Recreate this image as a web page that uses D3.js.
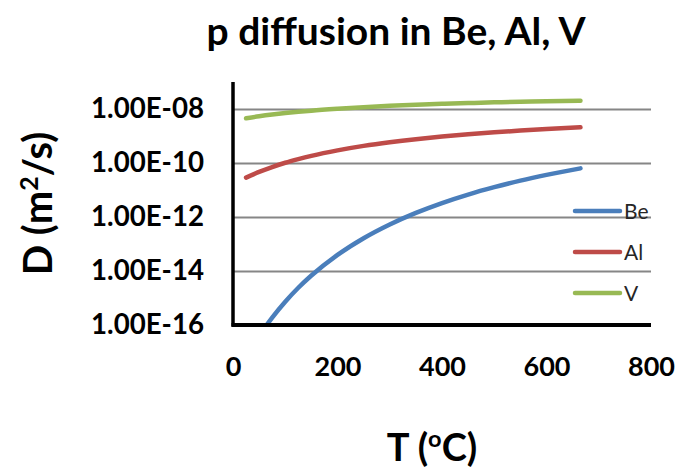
<!DOCTYPE html>
<html>
<head>
<meta charset="utf-8">
<script src="https://cdn.jsdelivr.net/npm/d3@7"></script>
<style>
  body { margin: 0; background: #fff; }
  svg { display: block; }
  text { font-family: Lato, "Open Sans", sans-serif; }
</style>
</head>
<body>
<svg id="chart"></svg>
<script>
// temperatures (degC) and diffusion coefficients (m2/s)
const temps = [25, 50, 75, 100, 125, 150, 200, 250, 300, 350, 400, 450, 500, 550, 600, 665];
const beD = [6.3e-18, 3.93e-17, 1.88e-16, 7.29e-16, 2.39e-15, 6.78e-15, 3.94e-14, 1.64e-13, 5.30e-13, 1.42e-12, 3.29e-12, 6.78e-12, 1.27e-11, 2.22e-11, 3.62e-11, 6.32e-11];
const alD = [2.87e-11, 4.67e-11, 7.08e-11, 1.02e-10, 1.39e-10, 1.84e-10, 2.94e-10, 4.30e-10, 5.87e-10, 7.64e-10, 9.55e-10, 1.16e-9, 1.37e-9, 1.59e-9, 1.81e-9, 2.10e-9];
const vD = [4.53e-9, 5.37e-9, 6.22e-9, 7.06e-9, 7.88e-9, 8.69e-9, 1.02e-8, 1.17e-8, 1.31e-8, 1.43e-8, 1.55e-8, 1.66e-8, 1.76e-8, 1.85e-8, 1.94e-8, 2.04e-8];

const seriesNames = ["Be", "Al", "V"];
const seriesColors = ["#4a7ebb", "#be4b48", "#98b954"];

const xTicks = [0, 200, 400, 600, 800];
const yTicks = [1e-16, 1e-14, 1e-12, 1e-10, 1e-8];
const yTickLabels = ["1.00E-16", "1.00E-14", "1.00E-12", "1.00E-10", "1.00E-08"];

const W = 687, H = 471;
const margin = {top: 82, right: 36, bottom: 146, left: 233};
const width = W - margin.left - margin.right;
const height = H - margin.top - margin.bottom;

const svg = d3.select("#chart").attr("width", W).attr("height", H);
svg.append("rect").attr("width", W).attr("height", H).attr("fill", "#fff");

const g = svg.append("g").attr("transform", `translate(${margin.left},${margin.top})`);

const x = d3.scaleLinear().domain([0, 800]).range([0, width]);
const y = d3.scaleLog().domain([1e-16, 1e-7]).range([height, 0]);

// shrink / grow a text so it spans the wanted width
function fitWidth(sel, w) {
    const len = sel.node().getComputedTextLength();
    const fs = parseFloat(sel.attr("font-size"));
    sel.attr("font-size", fs * w / len);
    return fs * w / len;
}

// gridlines
g.append("g")
    .attr("class", "grid")
    .call(d3.axisLeft(y).tickValues(yTicks.slice(1)).tickSize(-width).tickFormat(""))
    .call(s => s.select(".domain").remove())
    .call(s => s.selectAll("line").attr("stroke", "#868686").attr("stroke-width", 2));

// series lines
const series = [beD, alD, vD];
svg.append("defs").append("clipPath").attr("id", "plotClip")
    .append("rect").attr("width", width).attr("height", height);

const line = d3.line()
    .x((d, i) => x(temps[i]))
    .y(d => y(d))
    .curve(d3.curveMonotoneX);

g.append("g")
    .attr("clip-path", "url(#plotClip)")
    .selectAll("path")
    .data(series)
    .join("path")
    .attr("d", line)
    .attr("fill", "none")
    .attr("stroke", (d, i) => seriesColors[i])
    .attr("stroke-width", 4.5)
    .attr("stroke-linecap", "round");

// axes
const yAxis = g.append("g")
    .call(d3.axisLeft(y).tickValues(yTicks).tickSize(0).tickPadding(29)
        .tickFormat((d, i) => yTickLabels[i]));
yAxis.select(".domain").remove();
yAxis.selectAll("text")
    .attr("font-family", "Lato, sans-serif")
    .attr("font-weight", "bold")
    .attr("font-size", 20)
    .attr("fill", "#000");
const yfs = fitWidth(yAxis.select("text"), 113);
yAxis.selectAll("text").attr("font-size", yfs);

const xAxis = g.append("g")
    .attr("transform", `translate(0,${height})`)
    .call(d3.axisBottom(x).tickValues(xTicks).tickSize(0).tickPadding(32));
xAxis.select(".domain").remove();
xAxis.selectAll("text")
    .attr("font-family", "Lato, sans-serif")
    .attr("font-weight", "bold")
    .attr("font-size", 24)
    .attr("fill", "#000");
const xfs = fitWidth(xAxis.selectAll("text").filter((d, i) => i === 1), 47);
xAxis.selectAll("text").attr("font-size", xfs);

// axis lines (drawn on top)
g.append("line")
    .attr("x1", 0).attr("x2", 0).attr("y1", 0).attr("y2", height + 1.5)
    .attr("stroke", "#000").attr("stroke-width", 3.5);
g.append("line")
    .attr("x1", -1.5).attr("x2", width).attr("y1", height).attr("y2", height)
    .attr("stroke", "#000").attr("stroke-width", 4);

// legend
const legend = svg.append("g").attr("transform", "translate(573,211)");
const items = legend.selectAll("g")
    .data(seriesNames)
    .join("g")
    .attr("transform", (d, i) => `translate(0,${i * 41})`);
items.append("line")
    .attr("x1", 2).attr("x2", 47)
    .attr("stroke", (d, i) => seriesColors[i])
    .attr("stroke-width", 4.5)
    .attr("stroke-linecap", "round");
items.append("text")
    .attr("x", 51)
    .attr("dy", "0.36em")
    .attr("font-size", 21)
    .attr("fill", "#262626")
    .text(d => d);

// title
const title = svg.append("text")
    .attr("x", 396).attr("y", 45)
    .attr("text-anchor", "middle")
    .attr("font-weight", "bold")
    .attr("font-size", 36)
    .text("p diffusion in Be, Al, V");
fitWidth(title, 379);

// x axis title
const xTitle = svg.append("text")
    .attr("x", 432).attr("y", 461)
    .attr("text-anchor", "middle")
    .attr("font-weight", "bold")
    .attr("font-size", 38);
xTitle.append("tspan").text("T (");
xTitle.append("tspan").attr("font-size", "0.62em").attr("baseline-shift", "super").text("o");
xTitle.append("tspan").text("C)");

// y axis title
const yTitle = svg.append("text")
    .attr("transform", `translate(52,${margin.top + height / 2}) rotate(-90)`)
    .attr("text-anchor", "middle")
    .attr("font-weight", "bold")
    .attr("font-size", 40);
yTitle.append("tspan").text("D (m");
yTitle.append("tspan").attr("font-size", "0.62em").attr("baseline-shift", "super").text("2");
yTitle.append("tspan").text("/s)");
</script>
</body>
</html>
